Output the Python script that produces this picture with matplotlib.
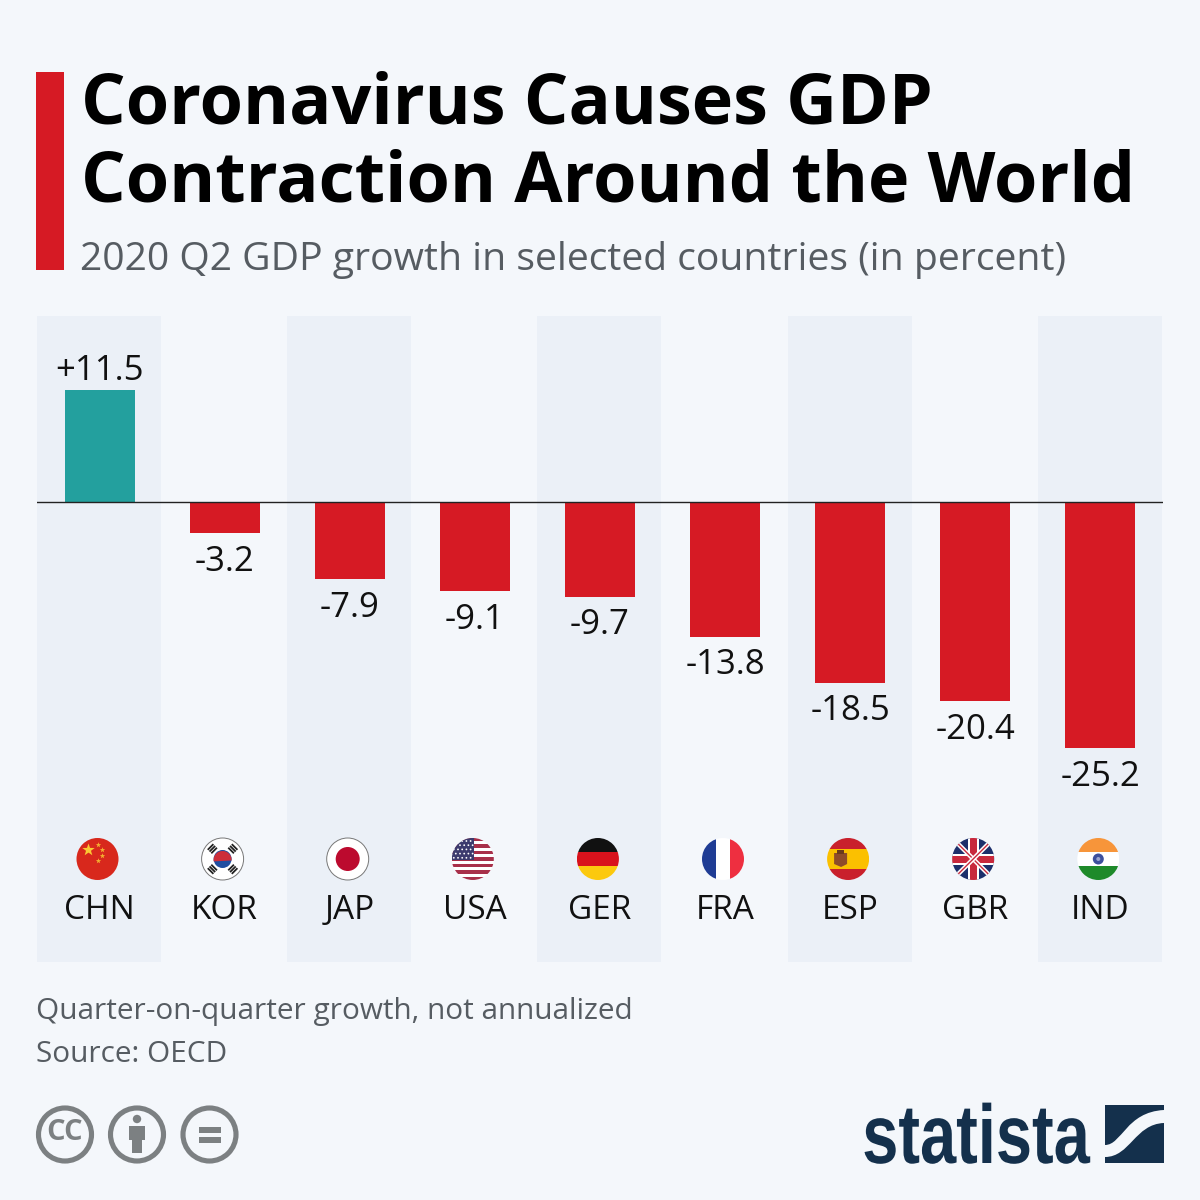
import matplotlib
matplotlib.use("Agg")
import matplotlib.pyplot as plt
import numpy as np
from matplotlib.patches import Circle, Polygon, Rectangle, PathPatch
from matplotlib.path import Path as MplPath
from matplotlib.patheffects import AbstractPathEffect
from matplotlib.transforms import Affine2D

plt.rcParams["font.family"] = ["Open Sans", "DejaVu Sans"]

countries = ["CHN", "KOR", "JAP", "USA", "GER", "FRA", "ESP", "GBR", "IND"]
growth = [11.5, -3.2, -7.9, -9.1, -9.7, -13.8, -18.5, -20.4, -25.2]
value_labels = ["+11.5", "-3.2", "-7.9", "-9.1", "-9.7", "-13.8", "-18.5", "-20.4", "-25.2"]

BG = "#f4f7fb"
BAND = "#ebf0f7"
RED = "#d61a24"
TEAL = "#23a09e"
DARK = "#111111"
GREY = "#565c62"
NAVY = "#14304c"
ICON = "#7c8082"


class SqueezeX(AbstractPathEffect):
    # no condensed bold font installed, so narrow the wordmark around its centre
    def __init__(self, center, factor):
        super().__init__()
        self.center = center
        self.factor = factor

    def draw_path(self, renderer, gc, tpath, affine, rgbFace=None):
        squeeze = Affine2D().translate(-self.center, 0).scale(self.factor, 1).translate(self.center, 0)
        renderer.draw_path(gc, tpath, affine + squeeze, rgbFace)


def flag_clip(ax, cx, cy, r=21):
    return Circle((cx, cy), r, transform=ax.transData)


def hstripes(ax, cx, cy, colors, r=21, shares=None):
    clip = flag_clip(ax, cx, cy, r)
    shares = shares or [1 / len(colors)] * len(colors)
    y = cy - r
    for c, s in zip(colors, shares):
        p = ax.add_patch(Rectangle((cx - r, y), 2 * r, 2 * r * s, fc=c, ec="none"))
        p.set_clip_path(clip)
        y += 2 * r * s


def vstripes(ax, cx, cy, colors, r=21):
    clip = flag_clip(ax, cx, cy, r)
    x = cx - r
    for c in colors:
        p = ax.add_patch(Rectangle((x, cy - r), 2 * r / 3, 2 * r, fc=c, ec="none"))
        p.set_clip_path(clip)
        x += 2 * r / 3


def star(ax, x, y, size, color):
    ang = np.deg2rad(np.arange(10) * 36 - 90)
    rad = np.where(np.arange(10) % 2 == 0, size, size * 0.4)
    ax.add_patch(Polygon(np.c_[x + rad * np.cos(ang), y + rad * np.sin(ang)], fc=color, ec="none"))


def draw_chn(ax, cx, cy):
    ax.add_patch(Circle((cx, cy), 21, fc="#d8281c", ec="none"))
    star(ax, cx - 9, cy - 9, 6.5, "#fbc934")
    for dx, dy in [(1, -14), (5, -9), (5, -3), (1, 2)]:
        star(ax, cx + dx, cy + dy, 2.8, "#f4b030")


def draw_kor(ax, cx, cy):
    ax.add_patch(Circle((cx, cy), 21, fc="white", ec="#777777", lw=0.7))
    ax.add_patch(Circle((cx, cy), 9, fc="#1f4ea1", ec="none"))
    t = np.linspace(-np.pi * 1.05, 0.05, 40)
    ax.add_patch(Polygon(np.c_[cx + 9 * np.cos(t), cy + 9 * np.sin(t) + 1], fc="#cd2e3a", ec="none"))
    for sx, sy in [(-1, -1), (1, -1), (-1, 1), (1, 1)]:
        ang = np.arctan2(sy, sx)
        px, py = cx + 14.5 * np.cos(ang), cy + 14.5 * np.sin(ang)
        for off in (-2.5, 0, 2.5):
            ox, oy = off * np.cos(ang), off * np.sin(ang)
            dx, dy = -4 * np.sin(ang), 4 * np.cos(ang)
            ax.plot([px + ox - dx, px + ox + dx], [py + oy - dy, py + oy + dy],
                    color="#222222", lw=1.3, solid_capstyle="butt")


def draw_jap(ax, cx, cy):
    ax.add_patch(Circle((cx, cy), 21, fc="white", ec="#777777", lw=0.7))
    ax.add_patch(Circle((cx, cy), 12, fc="#bc0a2e", ec="none"))


def draw_usa(ax, cx, cy):
    hstripes(ax, cx, cy, ["#a8304a", "white"] * 6 + ["#a8304a"])
    clip = flag_clip(ax, cx, cy)
    p = ax.add_patch(Rectangle((cx - 21, cy - 21), 22, 22, fc="#3c3b6e", ec="none"))
    p.set_clip_path(clip)
    for row in range(5):
        for col in range(5):
            d = ax.add_patch(Circle((cx - 19 + col * 4.2 + (row % 2) * 2, cy - 18 + row * 4.2), 0.9,
                                    fc="white", ec="none"))
            d.set_clip_path(clip)


def draw_ger(ax, cx, cy):
    hstripes(ax, cx, cy, ["#111111", "#d8121c", "#fcc90e"])


def draw_fra(ax, cx, cy):
    vstripes(ax, cx, cy, ["#1f3c94", "white", "#ee2f40"])


def draw_esp(ax, cx, cy):
    hstripes(ax, cx, cy, ["#c9202c", "#fbc000", "#c9202c"], shares=[0.27, 0.46, 0.27])
    ax.add_patch(Polygon([(cx - 14, cy - 6), (cx - 1, cy - 6), (cx - 1, cy + 5), (cx - 7, cy + 8), (cx - 14, cy + 5)],
                         fc="#8e4b2a", ec="none"))
    ax.add_patch(Rectangle((cx - 11, cy - 9), 7, 4, fc="#6a3a1c", ec="none"))


def draw_gbr(ax, cx, cy):
    ax.add_patch(Circle((cx, cy), 21, fc="#1c2f6b", ec="none"))
    clip = flag_clip(ax, cx, cy)
    for x0, y0, x1, y1 in [(-21, -21, 21, 21), (-21, 21, 21, -21)]:
        for c, lw in [("white", 3.2), ("#c8283c", 1.0)]:
            ln, = ax.plot([cx + x0, cx + x1], [cy + y0, cy + y1], color=c, lw=lw)
            ln.set_clip_path(clip)
    for c, w in [("white", 11), ("#c8283c", 7)]:
        a = ax.add_patch(Rectangle((cx - w / 2, cy - 21), w, 42, fc=c, ec="none"))
        b = ax.add_patch(Rectangle((cx - 21, cy - w / 2), 42, w, fc=c, ec="none"))
        a.set_clip_path(clip)
        b.set_clip_path(clip)


def draw_ind(ax, cx, cy):
    hstripes(ax, cx, cy, ["#f7953a", "white", "#1e8a2a"])
    ax.add_patch(Circle((cx, cy), 5.5, fc="#3d4f9c", ec="none"))
    ax.add_patch(Circle((cx, cy), 2, fc="#9aa4d0", ec="none"))


FLAGS = [draw_chn, draw_kor, draw_jap, draw_usa, draw_ger, draw_fra, draw_esp, draw_gbr, draw_ind]


def draw_bars(fig):
    # chart panel sits at x 37-1163, y 316-962 in pixels
    ax = fig.add_axes([37 / 1200, 1 - 962 / 1200, 1126 / 1200, 646 / 1200])
    ax.set_xlim(-0.5, 8.5)
    ax.set_ylim(-47.16, 19.09)
    ax.axis("off")
    for i in range(0, len(countries), 2):
        ax.axvspan(i - 0.5, i + 0.49, color=BAND, lw=0, zorder=0)
    colors = [TEAL if v > 0 else RED for v in growth]
    ax.bar(range(len(growth)), growth, width=0.56, color=colors, zorder=2)
    ax.axhline(0, color="#222222", lw=1, zorder=3)
    for i, (v, lab) in enumerate(zip(growth, value_labels)):
        y = v + 0.2 if v > 0 else v - 1.2
        ax.text(i, y, lab, ha="center", va="bottom" if v > 0 else "top",
                fontsize=25, color=DARK, zorder=4)
    for i, c in enumerate(countries):
        ax.text(i, -41.89, c, ha="center", va="center", fontsize=24, color=DARK, zorder=4)


def draw_chrome(fig):
    ax = fig.add_axes([0, 0, 1, 1], zorder=5)
    ax.set_xlim(0, 1200)
    ax.set_ylim(1200, 0)
    ax.axis("off")
    ax.patch.set_alpha(0)

    ax.add_patch(Rectangle((36, 72), 28, 198, fc=RED, ec="none"))
    ax.text(81, 106, "Coronavirus Causes GDP", fontsize=50.5, fontweight="bold",
            color="black", va="center", ha="left")
    ax.text(81, 183, "Contraction Around the World", fontsize=50.5, fontweight="bold",
            color="black", va="center", ha="left")
    ax.text(80, 260, "2020 Q2 GDP growth in selected countries (in percent)", fontsize=28.2,
            color=GREY, va="center", ha="left")

    ax.text(36, 1011, "Quarter-on-quarter growth, not annualized", fontsize=21.4,
            color=GREY, va="center", ha="left")
    ax.text(36, 1054, "Source: OECD", fontsize=21.4, color=GREY, va="center", ha="left")

    for i, draw in enumerate(FLAGS):
        draw(ax, 97.5 + i * 125.1, 859)

    # cc / by / nd badges
    for cx in (65, 137, 209.5):
        ax.add_patch(Circle((cx, 1134.5), 26.5, fc="none", ec=ICON, lw=3.7))
    ax.text(65, 1133, "CC", fontsize=21, fontweight="bold", color=ICON, ha="center", va="center")
    ax.add_patch(Circle((137, 1119), 4.2, fc=ICON, ec="none"))
    ax.add_patch(Rectangle((129, 1126), 16, 14, fc=ICON, ec="none"))
    ax.add_patch(Rectangle((132, 1140), 10, 13, fc=ICON, ec="none"))
    ax.add_patch(Rectangle((199, 1127), 22, 5.5, fc=ICON, ec="none"))
    ax.add_patch(Rectangle((199, 1137), 22, 5.5, fc=ICON, ec="none"))

    # statista wordmark and logo square
    word = ax.text(976, 1163, "statista", fontsize=60, fontweight="bold",
                   family=["Liberation Sans", "DejaVu Sans"],
                   color=NAVY, ha="center", va="baseline")
    word.set_path_effects([SqueezeX(976, 0.78)])
    ax.add_patch(Rectangle((1105, 1105), 59, 58, fc=NAVY, ec="none"))
    verts = [(1105, 1145), (1122, 1145), (1126, 1112), (1164, 1110), (1164, 1123),
             (1135, 1124), (1130, 1157), (1105, 1157), (1105, 1145)]
    codes = [MplPath.MOVETO, MplPath.CURVE4, MplPath.CURVE4, MplPath.CURVE4, MplPath.LINETO,
             MplPath.CURVE4, MplPath.CURVE4, MplPath.CURVE4, MplPath.CLOSEPOLY]
    ax.add_patch(PathPatch(MplPath(verts, codes), fc=BG, ec="none"))


def main():
    fig = plt.figure(figsize=(12, 12), dpi=100, facecolor=BG)
    draw_bars(fig)
    draw_chrome(fig)
    fig.savefig("out.png", dpi=100, facecolor=BG)
    plt.close(fig)


if __name__ == "__main__":
    main()
